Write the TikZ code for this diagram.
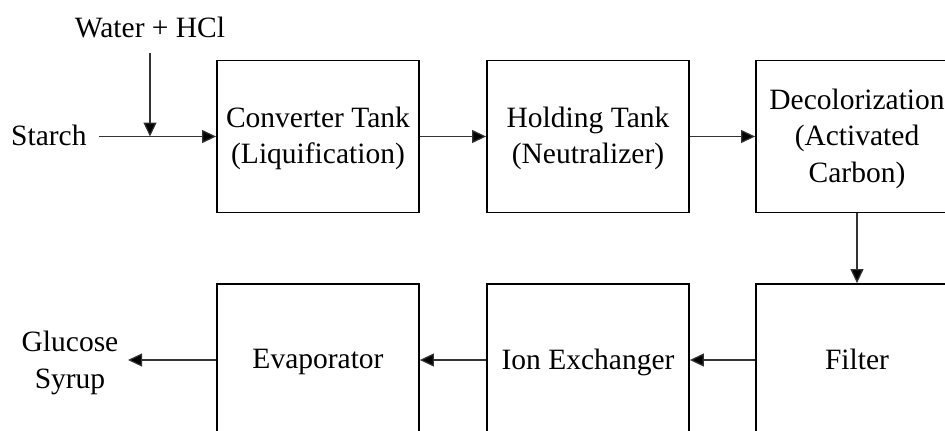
\documentclass[tikz,border=0pt]{standalone}
\usepackage{fontspec}
\setmainfont{Liberation Serif}
\usetikzlibrary{arrows.meta}
\begin{document}
\begin{tikzpicture}[x=1pt,y=-1pt,
  font=\fontsize{29.5}{36.5}\selectfont,
  procbox/.style={draw, line width=1.8pt, minimum width=202pt, minimum height=152pt, align=center, inner sep=0pt, text depth=2pt},
  flow/.style={line width=1.2pt, draw=black!80, -{Triangle[length=14pt,width=13pt,fill=black]}},
  lbl/.style={inner sep=0pt, align=center}]
\useasboundingbox (0,0) rectangle (945,431);
\clip (0,0) rectangle (945,431);
\node[procbox] (conv) at (318,136.5) {Converter Tank\\(Liquification)};
\node[procbox] (hold) at (588,136.5) {Holding Tank\\(Neutralizer)};
\node[procbox] (decol) at (857,136.5) {Decolorization\\(Activated\\Carbon)};
\node[procbox] (evap) at (318,360) {Evaporator};
\node[procbox] (ion) at (588,360) {Ion Exchanger};
\node[procbox] (filt) at (857,360) {Filter};
\node[lbl, anchor=base] (water) at (150,37) {Water + HCl};
\node[lbl, anchor=base west] (starch) at (11,145) {Starch};
\node[lbl] (glucose) at (70,363) {Glucose\\Syrup};
\coordinate (sin) at (99,136.5);
\coordinate (win) at (150,53);
\coordinate (wout) at (150,136.5);
\coordinate (gout) at (128,360);
\draw[flow] (sin) -- (conv.west);
\draw[flow] (win) -- (wout);
\draw[flow] (conv.east) -- (hold.west);
\draw[flow] (hold.east) -- (decol.west);
\draw[flow] (decol.south) -- (filt.north);
\draw[flow] (filt.west) -- (ion.east);
\draw[flow] (ion.west) -- (evap.east);
\draw[flow] (evap.west) -- (gout);
\end{tikzpicture}
\end{document}
